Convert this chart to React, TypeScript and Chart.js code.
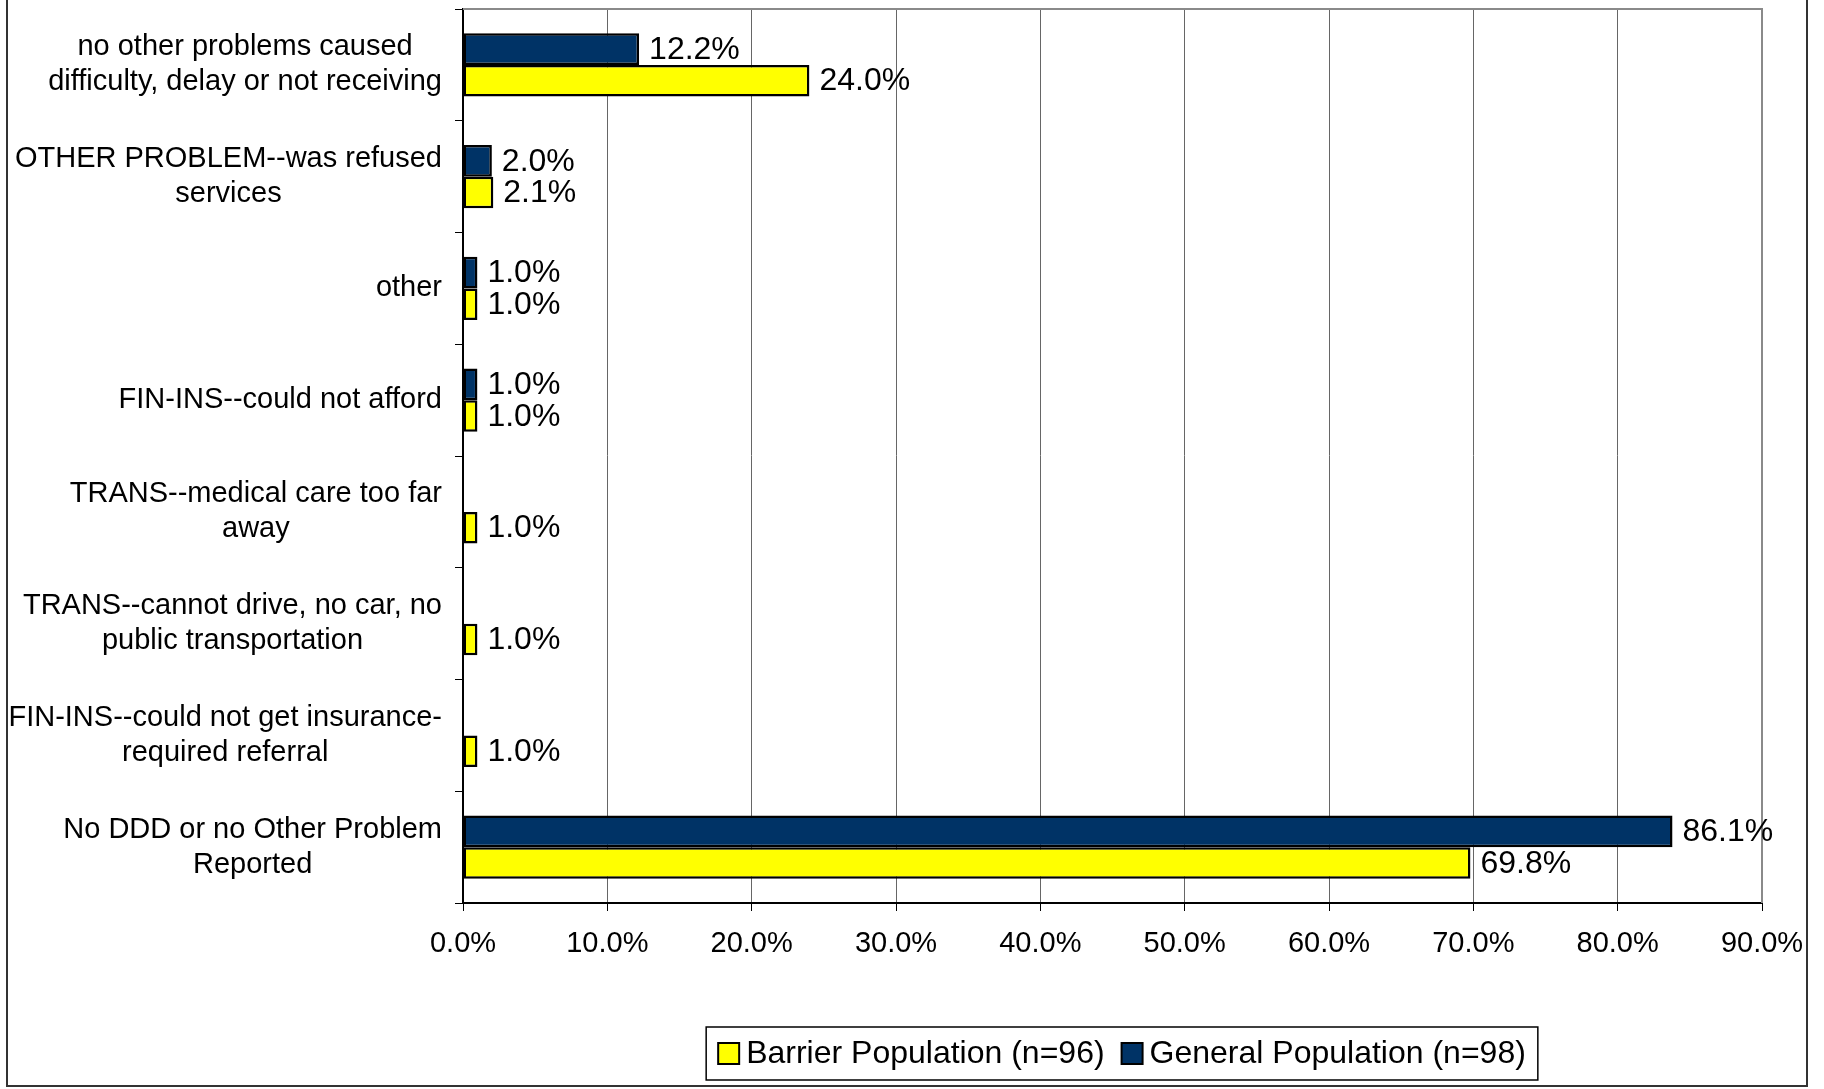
import React, { useEffect, useRef } from "react";
import { Chart, registerables } from "chart.js";

Chart.register(...registerables);

const categories: string[][] = [
  ["no other problems caused", "difficulty, delay or not receiving"],
  ["OTHER PROBLEM--was refused", "services"],
  ["other"],
  ["FIN-INS--could not afford"],
  ["TRANS--medical care too far", "away"],
  ["TRANS--cannot drive, no car, no", "public transportation"],
  ["FIN-INS--could not get insurance-", "required referral"],
  ["No DDD or no Other Problem", "Reported"],
];

const generalName = "General Population (n=98)";
const barrierName = "Barrier Population (n=96)";

// bar lengths as drawn in the picture
const generalValues: (number | null)[] = [12.2, 2.0, 1.0, 1.0, null, null, null, 83.8];
const barrierValues: (number | null)[] = [24.0, 2.1, 1.0, 1.0, 1.0, 1.0, 1.0, 69.8];

// value labels as printed in the picture
const generalLabels: (string | null)[] = ["12.2%", "2.0%", "1.0%", "1.0%", null, null, null, "86.1%"];
const barrierLabels: (string | null)[] = ["24.0%", "2.1%", "1.0%", "1.0%", "1.0%", "1.0%", "1.0%", "69.8%"];

const xMin = 0;
const xMax = 90;
const xStep = 10;

const FONT = '"Liberation Sans", Arial, sans-serif';

export default function App() {
  const ref = useRef<HTMLCanvasElement | null>(null);

  useEffect(() => {
    document.body.style.margin = "0";
    const canvas = ref.current;
    if (!canvas) return;
    const valueLabels = [generalLabels, barrierLabels];

    const decor = {
      id: "decor",
      afterDraw(chart: any) {
        const ctx = chart.ctx as CanvasRenderingContext2D;
        const area = chart.chartArea;
        const yScale = chart.scales.y;
        ctx.save();
        // plot border (top and right)
        ctx.strokeStyle = "#8a8a8a";
        ctx.lineWidth = 2;
        ctx.beginPath();
        ctx.moveTo(area.left, area.top);
        ctx.lineTo(area.right, area.top);
        ctx.lineTo(area.right, area.bottom);
        ctx.stroke();

        // category labels: block right-aligned, lines centred
        ctx.fillStyle = "#000";
        ctx.font = `29px ${FONT}`;
        ctx.textAlign = "center";
        ctx.textBaseline = "middle";
        const lh = 35;
        (chart.data.labels as any[]).forEach((lab, i) => {
          const lines: string[] = Array.isArray(lab) ? lab : [String(lab)];
          const maxW = Math.max(...lines.map((l) => ctx.measureText(l).width));
          const cx = area.left - 21 - maxW / 2;
          const cy = yScale.getPixelForValue(i);
          lines.forEach((l, j) => {
            ctx.fillText(l, cx, cy + (j - (lines.length - 1) / 2) * lh);
          });
        });

        // value labels
        ctx.font = `32px ${FONT}`;
        ctx.textAlign = "left";
        chart.data.datasets.forEach((ds: any, di: number) => {
          const meta = chart.getDatasetMeta(di);
          meta.data.forEach((bar: any, i: number) => {
            const t = valueLabels[di][i];
            if (!t || ds.data[i] == null) return;
            ctx.fillText(t, bar.x + 10, bar.y + 1);
          });
        });

        // legend (box), items in reverse dataset order
        const items = chart.data.datasets
          .map((ds: any) => ({ label: ds.label, color: ds.backgroundColor }))
          .reverse();
        ctx.font = `32px ${FONT}`;
        const sq = 21;
        const gapText = 7;
        const gapItem = 17;
        const padX = 12;
        const widths = items.map((it: any) => ctx.measureText(it.label).width);
        let content = 0;
        widths.forEach((w: number, k: number) => {
          content += sq + gapText + w + (k < widths.length - 1 ? gapItem : 0);
        });
        const boxW = content + padX * 2;
        const boxH = 53;
        const cxL = 1122;
        const cyL = 1053.5;
        const bx = cxL - boxW / 2;
        const by = cyL - boxH / 2;
        ctx.fillStyle = "#fff";
        ctx.fillRect(bx, by, boxW, boxH);
        ctx.strokeStyle = "#000";
        ctx.lineWidth = 1.5;
        ctx.strokeRect(bx, by, boxW, boxH);
        let px = bx + padX;
        items.forEach((it: any, k: number) => {
          ctx.fillStyle = it.color;
          ctx.fillRect(px, cyL - sq / 2, sq, sq);
          ctx.strokeStyle = "#000";
          ctx.lineWidth = 2;
          ctx.strokeRect(px, cyL - sq / 2, sq, sq);
          ctx.fillStyle = "#000";
          ctx.textBaseline = "middle";
          ctx.fillText(it.label, px + sq + gapText, cyL + 1);
          px += sq + gapText + widths[k] + gapItem;
        });

        // outer frame
        ctx.strokeStyle = "#333";
        ctx.lineWidth = 2;
        ctx.beginPath();
        ctx.moveTo(7, -5);
        ctx.lineTo(7, 1086);
        ctx.lineTo(1807, 1086);
        ctx.lineTo(1807, -5);
        ctx.stroke();
        ctx.restore();
      },
    };

    const chart = new Chart(canvas, {
      type: "bar",
      data: {
        labels: categories,
        datasets: [
          {
            label: generalName,
            data: generalValues,
            backgroundColor: "#003366",
            borderColor: "#000",
            borderWidth: 2.5,
            borderSkipped: false,
          },
          {
            label: barrierName,
            data: barrierValues,
            backgroundColor: "#FFFF00",
            borderColor: "#000",
            borderWidth: 2.5,
            borderSkipped: false,
          },
        ],
      },
      options: {
        indexAxis: "y",
        responsive: false,
        animation: false,
        devicePixelRatio: 1,
        layout: { padding: { top: 9, right: 62, left: 0, bottom: 0 } },
        datasets: {
          bar: { categoryPercentage: 0.564, barPercentage: 1 },
        },
        plugins: {
          legend: { display: false },
          tooltip: { enabled: false },
        },
        scales: {
          x: {
            type: "linear",
            position: "bottom",
            min: xMin,
            max: xMax,
            ticks: {
              stepSize: xStep,
              padding: 16,
              color: "#000",
              font: { family: FONT, size: 29 },
              callback: (v: any) => Number(v).toFixed(1) + "%",
            },
            grid: {
              color: "#666",
              lineWidth: 1,
              tickColor: "#000",
              tickLength: 8,
            },
            border: { color: "#000", width: 2 },
            afterFit: (scale: any) => {
              scale.height = 186;
            },
          },
          y: {
            type: "category",
            position: "left",
            offset: true,
            ticks: { display: false },
            grid: {
              offset: true,
              drawOnChartArea: false,
              color: "#000",
              tickLength: 8,
            },
            border: { color: "#000", width: 2 },
            afterFit: (scale: any) => {
              scale.width = 463;
            },
          },
        },
      } as any,
      plugins: [decor],
    });
    return () => chart.destroy();
  }, []);

  return (
    <div style={{ width: 1824, height: 1089, position: "relative" }}>
      <canvas ref={ref} width={1824} height={1089} />
    </div>
  );
}
